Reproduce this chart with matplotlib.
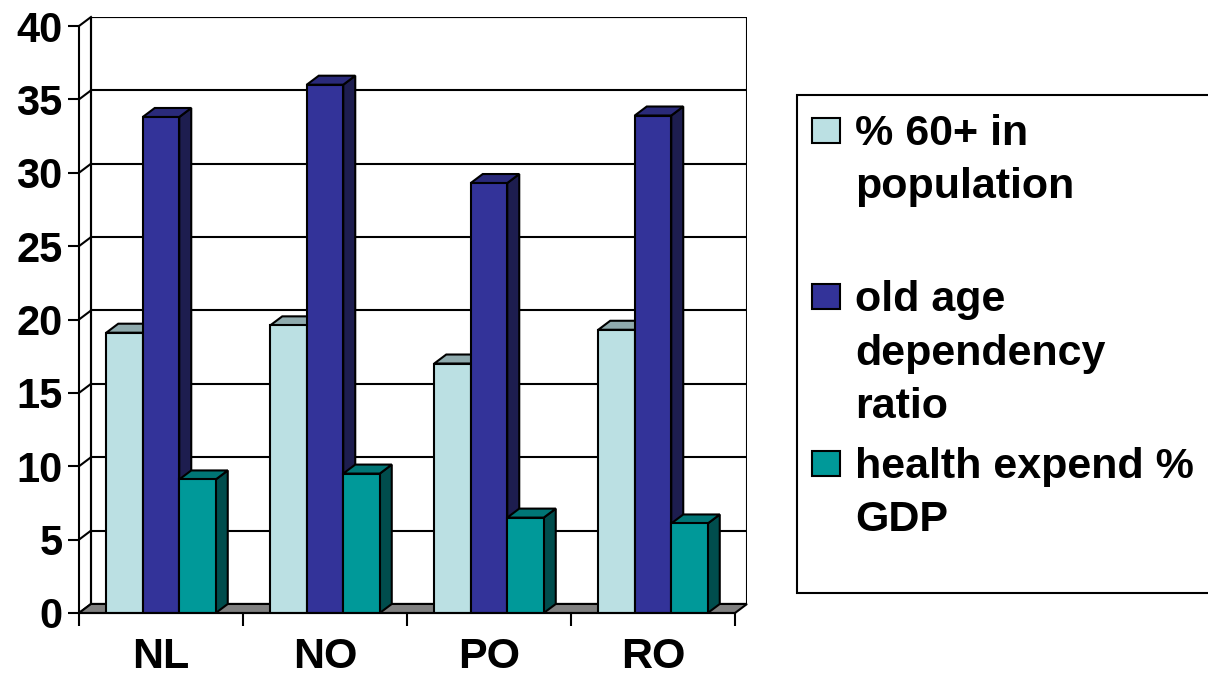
import numpy as np
import matplotlib
matplotlib.use("Agg")
from matplotlib import pyplot as plt
from matplotlib.patches import Polygon, Rectangle

plt.rcParams['font.family'] = ['Liberation Sans', 'DejaVu Sans']
plt.rcParams['font.weight'] = 'bold'

# data
countries = ["NL", "NO", "PO", "RO"]
pct_60 = [19.1, 19.6, 17.0, 19.3]
dependency = [33.8, 36.0, 29.3, 33.9]
health = [9.1, 9.5, 6.5, 6.1]
series_labels = ["% 60+ in\npopulation", "old age\ndependency\nratio", "health expend %\nGDP"]
y_ticks = [0, 5, 10, 15, 20, 25, 30, 35, 40]

# colours: front, top, side
front_cols = ["#BBE0E3", "#333399", "#009999"]
top_cols = ["#8FAAAD", "#2A2A7A", "#007676"]
side_cols = ["#8FAAAD", "#1D1D4F", "#004D4D"]

W, H = 1208, 679
fig = plt.figure(figsize=(W / 100, H / 100), dpi=100)

# axes box in pixels: front axis x=79..735, back wall to 747, y 0 at 613, top of wall at 17
x0, x1, ybot, ytop = 79, 747, 613, 17
ax = fig.add_axes([x0 / W, (H - ybot) / H, (x1 - x0) / W, (ybot - ytop) / H])

n_cat = len(countries)
px_per_cat = 164.0
px_per_unit = (ybot - 27) / 40.0
dx = 12 / px_per_cat   # depth offset in data units
dy = 9 / px_per_unit
ax.set_xlim(0, n_cat + dx)
ax.set_ylim(0, 40 + dy)
ax.patch.set_visible(False)

lw = 1.5
# back wall
ax.add_patch(Rectangle((dx, dy), n_cat, 40, facecolor="white", edgecolor="black", lw=lw, zorder=0))
for v in y_ticks:
    ax.plot([dx, n_cat + dx], [v + dy, v + dy], color="black", lw=lw, zorder=1)
    ax.plot([0, dx], [v, v + dy], color="black", lw=lw, zorder=1, clip_on=False)
ax.plot([dx, dx], [dy, 40 + dy], color="black", lw=lw, zorder=1)

# floor
floor = Polygon([(0, 0), (n_cat, 0), (n_cat + dx, dy), (dx, dy)], closed=True,
                facecolor="#808080", edgecolor="black", lw=lw, zorder=1, clip_on=False)
ax.add_patch(floor)

# bars
bar_w = 36.5 / px_per_cat
all_series = [pct_60, dependency, health]
centers = np.arange(n_cat) + 0.5
z = 3
for g in range(n_cat):
    for i, vals in enumerate(all_series):
        xc = centers[g] + (i - 1) * bar_w
        v = vals[g]
        xl, xr = xc - bar_w / 2, xc + bar_w / 2
        side = Polygon([(xr, 0), (xr + dx, dy), (xr + dx, v + dy), (xr, v)], closed=True,
                       facecolor=side_cols[i], edgecolor="black", lw=lw, zorder=z)
        top = Polygon([(xl, v), (xr, v), (xr + dx, v + dy), (xl + dx, v + dy)], closed=True,
                      facecolor=top_cols[i], edgecolor="black", lw=lw, zorder=z)
        ax.add_patch(side)
        ax.add_patch(top)
        ax.bar(xc, v, width=bar_w, color=front_cols[i], edgecolor="black", lw=lw, zorder=z + 0.5)
        z += 1

# axes, ticks
for s in ["top", "right"]:
    ax.spines[s].set_visible(False)
ax.spines["left"].set_bounds(0, 40)
ax.spines["bottom"].set_bounds(0, n_cat)
for s in ["left", "bottom"]:
    ax.spines[s].set_linewidth(lw)
    ax.spines[s].set_zorder(50)
ax.set_yticks(y_ticks)
ax.set_yticklabels([str(v) for v in y_ticks], fontsize=30, fontweight="bold")
ax.tick_params(axis="y", length=8, width=lw, pad=4)
ax.set_xticks(np.arange(n_cat + 1))
ax.set_xticklabels([])
ax.set_xticks(centers, minor=True)
ax.set_xticklabels(countries, minor=True, fontsize=31, fontweight="bold")
ax.tick_params(axis="x", which="major", length=9, width=lw)
ax.tick_params(axis="x", which="minor", length=0, pad=17)

# legend, drawn by hand in pixel positions
def fx(x):
    return x / W

def fy(y):
    return 1 - y / H

fig.patches.append(Rectangle((fx(797), fy(593)), fx(1300 - 797), (593 - 95) / H,
                             transform=fig.transFigure, facecolor="white",
                             edgecolor="black", lw=lw, figure=fig))
base0, entry_step, line_step = 145, 166.5, 53
for i, lab in enumerate(series_labels):
    b = base0 + i * entry_step
    fig.patches.append(Rectangle((fx(812), fy(b - 2)), fx(28), 25 / H,
                                 transform=fig.transFigure, facecolor=front_cols[i],
                                 edgecolor="black", lw=lw, figure=fig))
    for k, line in enumerate(lab.split("\n")):
        fig.text(fx(855), fy(b + k * line_step), line, fontsize=31, fontweight="bold",
                 va="baseline", ha="left")

fig.savefig("out.png", dpi=100)
